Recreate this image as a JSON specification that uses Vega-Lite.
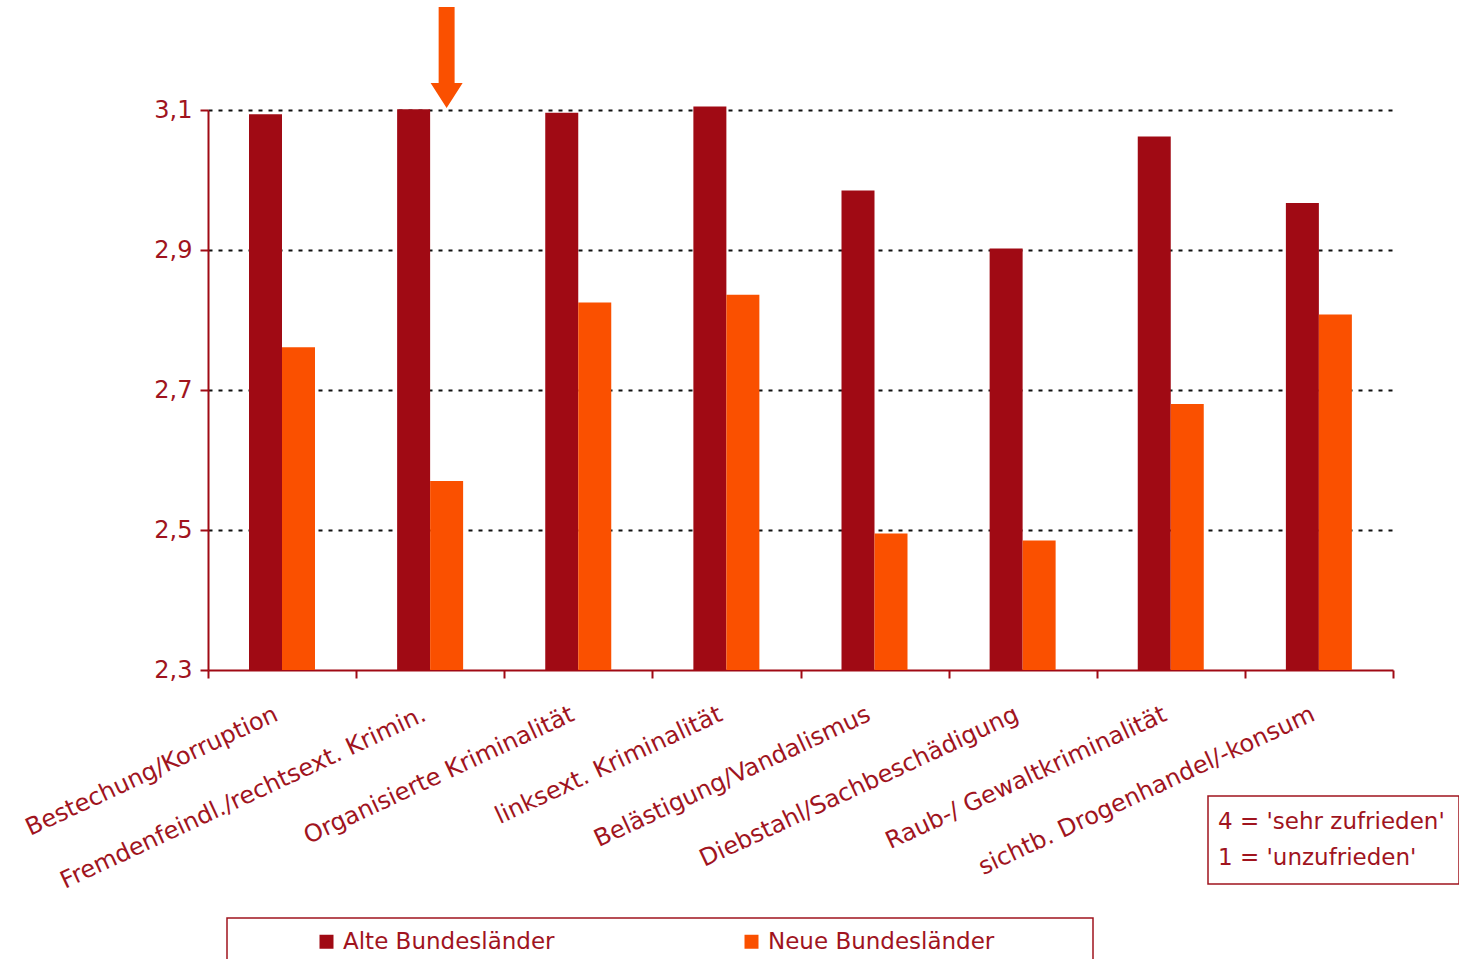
{
  "$schema": "https://vega.github.io/schema/vega-lite/v6.json",
  "width": 1185,
  "height": 560,
  "autosize": {"type": "none"},
  "padding": {"left": 208, "top": 110, "right": 66, "bottom": 289},
  "background": "white",
  "config": {
    "view": {"stroke": null},
    "font": "DejaVu Sans",
    "legend": {"strokeWidth": 1.5}
  },
  "datasets": {
    "werte": [
      {"kategorie": "Bestechung/Korruption", "gruppe": "Alte Bundesländer", "wert": 3.094},
      {"kategorie": "Bestechung/Korruption", "gruppe": "Neue Bundesländer", "wert": 2.761},
      {"kategorie": "Fremdenfeindl./rechtsext. Krimin.", "gruppe": "Alte Bundesländer", "wert": 3.101},
      {"kategorie": "Fremdenfeindl./rechtsext. Krimin.", "gruppe": "Neue Bundesländer", "wert": 2.570},
      {"kategorie": "Organisierte Kriminalität", "gruppe": "Alte Bundesländer", "wert": 3.096},
      {"kategorie": "Organisierte Kriminalität", "gruppe": "Neue Bundesländer", "wert": 2.825},
      {"kategorie": "linksext. Kriminalität", "gruppe": "Alte Bundesländer", "wert": 3.105},
      {"kategorie": "linksext. Kriminalität", "gruppe": "Neue Bundesländer", "wert": 2.836},
      {"kategorie": "Belästigung/Vandalismus", "gruppe": "Alte Bundesländer", "wert": 2.985},
      {"kategorie": "Belästigung/Vandalismus", "gruppe": "Neue Bundesländer", "wert": 2.495},
      {"kategorie": "Diebstahl/Sachbeschädigung", "gruppe": "Alte Bundesländer", "wert": 2.902},
      {"kategorie": "Diebstahl/Sachbeschädigung", "gruppe": "Neue Bundesländer", "wert": 2.485},
      {"kategorie": "Raub-/ Gewaltkriminalität", "gruppe": "Alte Bundesländer", "wert": 3.062},
      {"kategorie": "Raub-/ Gewaltkriminalität", "gruppe": "Neue Bundesländer", "wert": 2.680},
      {"kategorie": "sichtb. Drogenhandel/-konsum", "gruppe": "Alte Bundesländer", "wert": 2.967},
      {"kategorie": "sichtb. Drogenhandel/-konsum", "gruppe": "Neue Bundesländer", "wert": 2.808}
    ],
    "pfeil": [
      {"kategorie": "Fremdenfeindl./rechtsext. Krimin.", "gruppe": "Neue Bundesländer", "wert": 3.175}
    ],
    "hinweis": [
      {"hinweis": "4 = 'sehr zufrieden'"},
      {"hinweis": "1 = 'unzufrieden'"}
    ]
  },
  "layer": [
    {
      "data": {"name": "werte"},
      "mark": {"type": "bar"},
      "encoding": {
        "x": {
          "field": "kategorie",
          "type": "nominal",
          "sort": null,
          "scale": {"paddingInner": 0, "paddingOuter": 0},
          "axis": {
            "title": null,
            "tickBand": "extent",
            "labelAngle": -25,
            "labelAlign": "right",
            "labelBaseline": "top",
            "labelPadding": 24,
            "labelOffset": -11,
            "labelFontSize": 24,
            "labelFont": "DejaVu Sans",
            "labelColor": "#a0141e",
            "labelLimit": 500,
            "tickColor": "#a00a14",
            "tickSize": 8,
            "tickWidth": 2,
            "domainColor": "#a00a14",
            "domainWidth": 2,
            "grid": false
          }
        },
        "xOffset": {
          "field": "gruppe",
          "type": "nominal",
          "sort": null,
          "scale": {"paddingInner": 0, "paddingOuter": 0, "range": [41, 107]}
        },
        "y": {
          "field": "wert",
          "type": "quantitative",
          "scale": {"domain": [2.3, 3.1], "nice": false, "zero": false},
          "axis": {
            "title": null,
            "values": [2.3, 2.5, 2.7, 2.9, 3.1],
            "labelExpr": "replace(format(datum.value, '.1f'), '.', ',')",
            "labelFontSize": 24,
            "labelFont": "DejaVu Sans",
            "labelColor": "#a0141e",
            "labelPadding": 8,
            "tickColor": "#a00a14",
            "tickSize": 8,
            "tickWidth": 2,
            "domainColor": "#a00a14",
            "domainWidth": 2,
            "grid": true,
            "gridColor": "#111111",
            "gridDash": [4, 6],
            "gridWidth": 2,
            "gridOpacity": {"condition": {"test": "datum.value < 2.4", "value": 0}, "value": 1}
          }
        },
        "y2": {"datum": 2.3},
        "color": {
          "field": "gruppe",
          "type": "nominal",
          "sort": null,
          "scale": {"range": ["#a00a14", "#fa5000"]},
          "legend": {
            "title": " ",
            "titleOrient": "right",
            "titlePadding": 87,
            "orient": "none",
            "legendX": 19,
            "legendY": 808,
            "direction": "horizontal",
            "strokeColor": "#a0141e",
            "padding": 12,
            "symbolType": "square",
            "symbolSize": 196,
            "symbolStrokeWidth": 0,
            "symbolOffset": 76,
            "labelOffset": 5,
            "columnPadding": 109,
            "labelFontSize": 23,
            "labelFont": "DejaVu Sans",
            "labelColor": "#a0141e",
            "labelLimit": 500
          }
        }
      }
    },
    {
      "data": {"name": "pfeil"},
      "mark": {
        "type": "point",
        "shape": "M-0.158,-1L0.158,-1L0.158,0.505L0.317,0.505L0,1L-0.317,0.505L-0.158,0.505Z",
        "size": 10201,
        "filled": true,
        "color": "#fa5000",
        "opacity": 1,
        "strokeWidth": 0
      },
      "encoding": {
        "x": {"field": "kategorie", "type": "nominal", "sort": null},
        "xOffset": {"field": "gruppe", "type": "nominal", "sort": null},
        "y": {"field": "wert", "type": "quantitative"}
      }
    },
    {
      "data": {"name": "hinweis"},
      "mark": {"type": "point", "opacity": 0},
      "encoding": {
        "shape": {
          "field": "hinweis",
          "type": "nominal",
          "sort": null,
          "scale": {"domain": ["4 = 'sehr zufrieden'", "1 = 'unzufrieden'"], "range": ["square", "square"]},
          "legend": {
            "title": null,
            "orient": "none",
            "legendX": 1000,
            "legendY": 686,
            "direction": "vertical",
            "strokeColor": "#a0141e",
            "padding": 14,
            "symbolSize": 0,
            "symbolOpacity": 0,
            "symbolStrokeWidth": 0,
            "symbolOffset": -27,
            "labelOffset": 0,
            "rowPadding": 12,
            "labelFontSize": 23,
            "labelFont": "DejaVu Sans",
            "labelColor": "#a0141e",
            "labelLimit": 500
          }
        }
      }
    }
  ]
}
